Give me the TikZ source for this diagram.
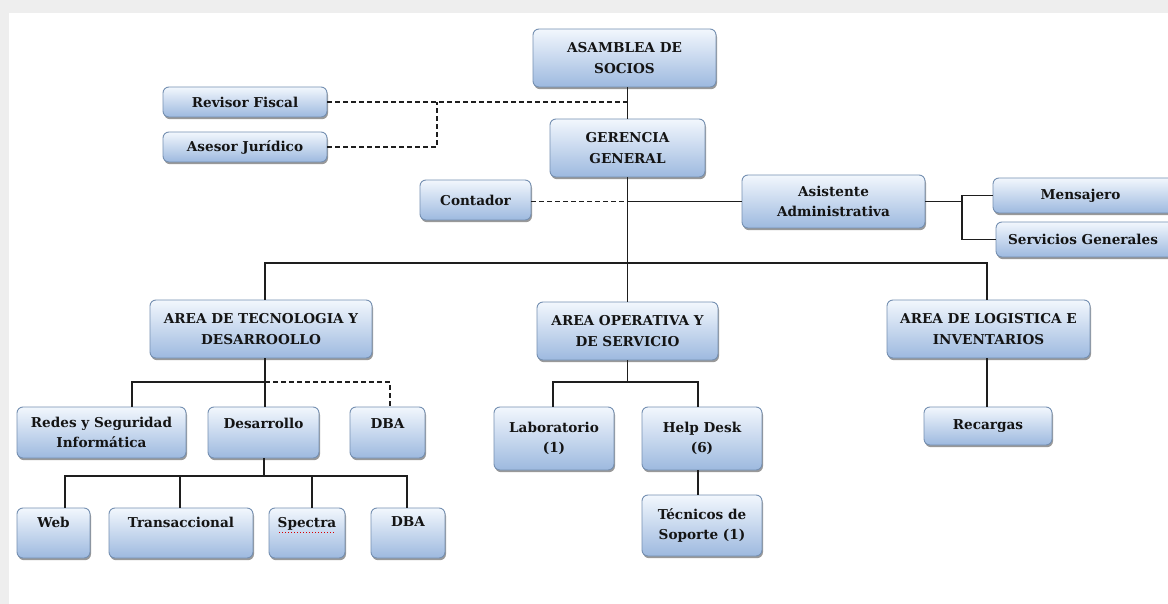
\documentclass[tikz,border=0pt]{standalone}
\usepackage{fontspec}
\setmainfont{DejaVu Serif}
\usetikzlibrary{shadows,calc}
\definecolor{boxtop}{HTML}{F2F7FD}
\definecolor{boxbot}{HTML}{9DB9DF}
\definecolor{boxline}{HTML}{7590B2}
\definecolor{bggray}{HTML}{EEEEEE}
\definecolor{linkc}{HTML}{1E1E1E}
\newcommand{\obox}[7][]{%
  \pgfmathsetmacro{\oboxcx}{(#3+#5)/2}\pgfmathsetmacro{\oboxcy}{(#4+#6)/2}%
  \pgfmathsetmacro{\oboxw}{#5-#3}\pgfmathsetmacro{\oboxh}{#6-#4}%
  \node[orgbox, minimum width=\oboxw pt, minimum height=\oboxh pt, #1] (#2) at (\oboxcx,\oboxcy) {#7};}
\begin{document}
\begin{tikzpicture}[x=1pt,y=-1pt,
  orgbox/.style={draw=boxline, line width=0.9pt, rounded corners=6pt,
    top color=boxtop, bottom color=boxbot,
    drop shadow={shadow xshift=1.0pt, shadow yshift=-2.2pt, fill=black, opacity=0.4},
    inner sep=0pt, font=\fontsize{13.6}{20.5}\selectfont\bfseries, align=center, text=black!92},
  link/.style={draw=linkc, line width=1.5pt},
  dlink/.style={draw=linkc, line width=1.5pt, dash pattern=on 5pt off 3pt},
  liftA/.style={text depth=18pt},
  liftB/.style={text depth=22pt},
]
\useasboundingbox (0,0) rectangle (1168,604);
\fill[bggray] (0,0) rectangle (1168,604);
\fill[white] (9,13) rectangle (1168,604);
\begin{scope}
\clip (0,0) rectangle (1168,604);
% top
\obox{asamblea}{533}{29}{716}{87}{ASAMBLEA DE\\SOCIOS}
\obox{gerencia}{550}{119}{705}{177}{GERENCIA\\GENERAL}
\obox{revisor}{163}{87}{327}{117}{Revisor Fiscal}
\obox{asesor}{163}{132}{327}{162}{Asesor Jurídico}
\obox{contador}{420}{180}{531}{220}{Contador}
\obox{asistente}{742}{175}{925}{228}{Asistente\\Administrativa}
\obox{mensajero}{993}{178}{1185}{213}{\hspace*{-17pt}Mensajero}
\obox{servicios}{996}{222}{1185}{257}{\hspace*{-15pt}Servicios Generales}
% areas
\obox{tech}{150}{300}{372}{358}{AREA DE TECNOLOGIA Y\\DESARROOLLO}
\obox{oper}{537}{302}{718}{360}{AREA OPERATIVA Y\\DE SERVICIO}
\obox{logist}{887}{300}{1090}{358}{AREA DE LOGISTICA E\\INVENTARIOS}
% level 3
\obox{redes}{17}{407}{186}{458}{Redes y Seguridad\\Informática}
\obox[liftA]{desarrollo}{208}{407}{319}{458}{Desarrollo}
\obox[liftA]{dba}{350}{407}{425}{458}{DBA}
\obox{lab}{494}{407}{614}{470}{Laboratorio\\(1)}
\obox{helpdesk}{642}{407}{762}{470}{Help Desk\\(6)}
\obox{tecnicos}{642}{495}{762}{556}{Técnicos de\\Soporte (1)}
\obox{recargas}{924}{407}{1052}{445}{Recargas}
% level 4
\obox[liftB]{web}{17}{508}{90}{558}{Web}
\obox[liftB]{trans}{109}{508}{253}{558}{Transaccional}
\obox[liftB]{spectra}{269}{508}{345}{558}{Spectra}
\obox[liftB]{dba2}{371}{508}{445}{558}{DBA}
\end{scope}
\draw[red!85!black, line width=1pt, dotted] ($(spectra.center)+(-28,-1)$) -- ++(56,0);
% connectors top
\draw[link] (gerencia.north |- asamblea.south) -- (gerencia.north);
\draw[dlink] (revisor.east) -- (revisor.east -| gerencia.north);
\coordinate (aj) at (437,102);
\draw[dlink] (asesor.east) -| (aj);
\coordinate (bar) at (627.5,263);
\draw[link] (gerencia.south) -- (bar);
\draw[dlink] (contador.east |- asistente.west) -- (asistente.west -| gerencia.south);
\draw[link] (asistente.west -| gerencia.south) -- (asistente.west);
\coordinate (br) at (962,200);
\draw[link] (asistente.east) -- (asistente.east -| br);
\draw[link] (mensajero.west) -| (br |- servicios.west) -- (servicios.west);
% main bar
\coordinate (barL) at (265,263);
\coordinate (barR) at (987,263);
\draw[link] (barL |- tech.north) -- (barL) -- (barR) -- (barR |- logist.north);
\draw[link] (bar) -- (bar |- oper.north);
% tech subtree
\coordinate (t1) at (265,382);
\coordinate (t0) at (132,382);
\coordinate (t2) at (390,382);
\draw[link] (t1 |- tech.south) -- (t1) -- (t0) -- (t0 |- redes.north);
\draw[link] (t1) -- (t1 |- desarrollo.north);
\draw[dlink] (t1) -- (t2) -- (t2 |- dba.north);
\coordinate (d0) at (264,476);
\coordinate (dW) at (65,476);
\coordinate (dT) at (180,476);
\coordinate (dS) at (312,476);
\coordinate (dD) at (407,476);
\draw[link] (d0 |- desarrollo.south) -- (d0);
\draw[link] (dW |- web.north) -- (dW) -- (dD) -- (dD |- dba2.north);
\draw[link] (dT) -- (dT |- trans.north);
\draw[link] (dS) -- (dS |- spectra.north);
% oper subtree
\coordinate (o1) at (627.5,382);
\coordinate (oL) at (553,382);
\coordinate (oH) at (698,382);
\draw[link] (oper.south) -- (o1);
\draw[link] (oL |- lab.north) -- (oL) -- (oH) -- (oH |- helpdesk.north);
\draw[link] (oH |- helpdesk.south) -- (oH |- tecnicos.north);
% logistica
\draw[link] (logist.south -| barR) -- (recargas.north -| barR);
\end{tikzpicture}
\end{document}
